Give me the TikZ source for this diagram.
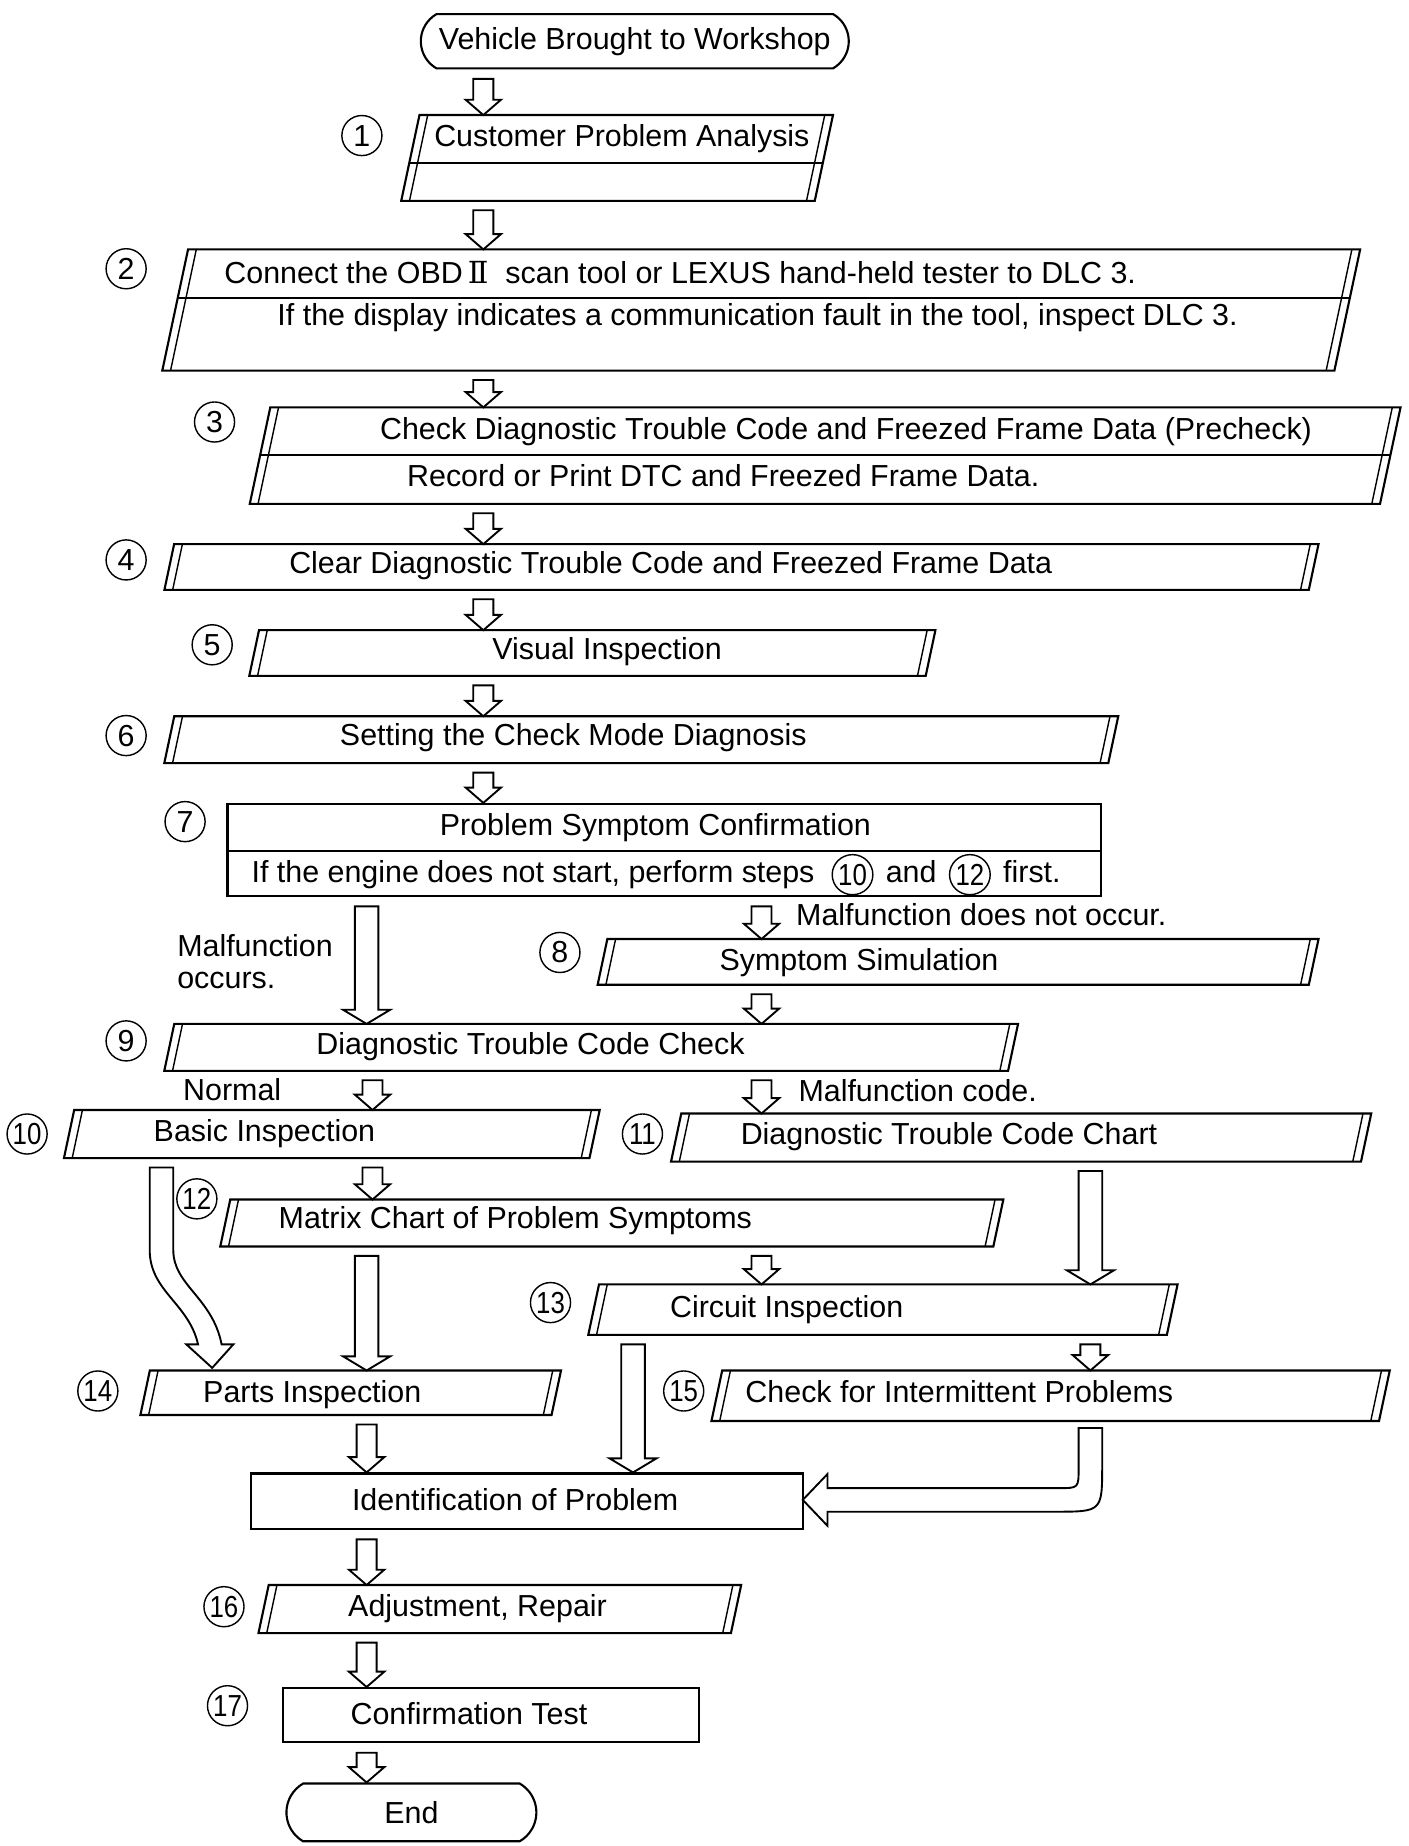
\documentclass[tikz,border=0pt]{standalone}
\usepackage{fontspec}
\setmainfont{Liberation Sans}
\newfontfamily\numeralfont{DejaVu Serif}
\usepackage{graphicx}
\usetikzlibrary{calc,positioning,shapes.misc,shapes.geometric}

\tikzset{
  edge/.style={line width=0.9pt},
  inner edge/.style={line width=0.6pt},
  harrow/.style={draw, line width=0.8pt, fill=white, line join=miter},
  pbox/.style={rectangle, inner sep=0pt},
  rbox/.style={rectangle, draw, line width=0.9pt, inner sep=0pt},
  term/.style={rounded rectangle, rounded rectangle arc length=120, draw,
    line width=0.9pt, inner sep=0pt},
  txt/.style={inner sep=0pt, text height=9pt, text depth=2.5pt},
  num/.style={circle, draw, line width=0.6pt, inner sep=0pt, minimum size=17pt},
  inum/.style={ellipse, draw, line width=0.6pt, inner sep=0pt,
    minimum width=16pt, minimum height=17pt},
}

% parallelogram round a box node, slanted sides drawn twice
\newcommand\pgram[1]{%
  \draw[edge] let \p1=(#1.north west), \p2=(#1.south east),
    \n1={0.1063*(\y1-\y2)} in
    (\x1+\n1,\y1) -- (\x2+\n1,\y1) -- (\x2-\n1,\y2) -- (\x1-\n1,\y2) -- cycle;
  \draw[inner edge] let \p1=(#1.north west), \p2=(#1.south east),
    \n1={0.1063*(\y1-\y2)} in
    (\x1+\n1+3.5pt,\y1) -- (\x1-\n1+3.5pt,\y2)
    (\x2+\n1-3.5pt,\y1) -- (\x2-\n1-3.5pt,\y2);
}
% divider inside a parallelogram
\newcommand\pdiv[2]{%
  \draw[edge] let \p1=(#1.north west), \p2=(#1.south east), \p3=(0,#2),
    \n1={0.1063*(\y1-\y2)}, \n2={0.2126*(\y3-\y2)} in
    (\x1-\n1+\n2,\y3) -- (\x2-\n1+\n2,\y3);
}
% hollow arrow pointing down
\newcommand\hollowarrow[5]{%
  \draw[harrow] let \p1=#4, \p2=#5 in
    (\x1-#1,\y1-4pt) -- (\x1-#1,\y2+#3) -- (\x1-#2,\y2+#3) -- (\x1,\y2)
    -- (\x1+#2,\y2+#3) -- (\x1+#1,\y2+#3) -- (\x1+#1,\y1-4pt) -- cycle;}
\newcommand\smallarrow[2]{\hollowarrow{4.25pt}{7.5pt}{6.5pt}{#1}{#2}}
\newcommand\longarrow[2]{\hollowarrow{5pt}{10pt}{6pt}{#1}{#2}}
\newcommand\sqz[1]{\scalebox{0.85}[1]{#1}}

\begin{document}
\begin{tikzpicture}[x=0.5pt, y=-0.5pt, font=\fontsize{12.9}{15}\selectfont]
  \useasboundingbox (0,0) rectangle (1195,1566);

  % columns of the arrows
  \coordinate (colmain) at (410,0);
  \coordinate (colsplit) at (646,0);
  \coordinate (colleft) at (311,0);
  \coordinate (colnormal) at (316,0);
  \coordinate (colright) at (925,0);
  \coordinate (colcirc) at (537,0);
  \coordinate (colbend) at (137,0);

  % boxes
  \node[term, minimum width=181.5pt, minimum height=23pt] (start) at (538.5,35) {Vehicle Brought to Workshop};
  \node[pbox, minimum width=175pt, minimum height=36pt] (analysis) at (523.5,134) {};
  \node[pbox, minimum width=496.75pt, minimum height=51pt] (connect) at (645.75,263) {};
  \node[pbox, minimum width=479pt, minimum height=40.5pt] (precheck) at (700,386.5) {};
  \node[pbox, minimum width=485pt, minimum height=19pt] (clear) at (629,481) {};
  \node[pbox, minimum width=286.5pt, minimum height=19pt] (visual) at (502.5,554) {};
  \node[pbox, minimum width=400pt, minimum height=19.5pt] (setmode) at (544,627.5) {};
  \node[rbox, minimum width=370.5pt, minimum height=39pt] (confirm) at (563.5,721) {};
  \node[pbox, minimum width=301.25pt, minimum height=19pt] (simulate) at (812.75,816) {};
  \node[pbox, minimum width=357.5pt, minimum height=19.5pt] (dtccheck) at (501.5,888.5) {};
  \node[pbox, minimum width=222.5pt, minimum height=20pt] (basic) at (281.5,962) {};
  \node[pbox, minimum width=292.25pt, minimum height=20pt] (dtcchart) at (866.25,965) {};
  \node[pbox, minimum width=327.5pt, minimum height=19.5pt] (matrix) at (519,1037.5) {};
  \node[pbox, minimum width=245pt, minimum height=21pt] (circuit) at (749,1111) {};
  \node[pbox, minimum width=174pt, minimum height=18.5pt] (parts) at (297.5,1181.5) {};
  \node[pbox, minimum width=282.75pt, minimum height=21pt] (intermit) at (891.25,1184) {};
  \node[rbox, minimum width=234pt, minimum height=23.5pt] (ident) at (447,1273.5) {};
  \node[pbox, minimum width=200pt, minimum height=20pt] (repair) at (424,1365) {};
  \node[rbox, minimum width=176.5pt, minimum height=23pt] (test) at (416.5,1455) {};
  \node[term, minimum width=106pt, minimum height=24.5pt] (finish) at (349,1537.5) {End};

  \foreach \b in {analysis,connect,precheck,clear,visual,setmode,simulate,
    dtccheck,basic,dtcchart,matrix,circuit,parts,intermit,repair}
    {\pgram{\b}}
  \pdiv{analysis}{138}
  \pdiv{connect}{253}
  \pdiv{precheck}{386}
  \draw[edge] (confirm.west |- 0,722) -- (confirm.east |- 0,722);

  % texts
  \node[txt, anchor=west] (t-analysis) at (368,118) {Customer Problem Analysis};
  \node[txt, anchor=west] (t-connect1) at (190,234) {Connect the OBD\,{\numeralfont Ⅱ}~ scan tool or LEXUS hand-held tester to DLC 3.};
  \node[txt, anchor=west] (t-connect2) at (235,270) {If the display indicates a communication fault in the tool, inspect DLC 3.};
  \node[txt, anchor=west] (t-precheck1) at (322,366) {Check Diagnostic Trouble Code and Freezed Frame Data (Precheck)};
  \node[txt, anchor=west] (t-precheck2) at (345,406) {Record or Print DTC and Freezed Frame Data.};
  \node[txt, anchor=west] (t-clear) at (245,480) {Clear Diagnostic Trouble Code and Freezed Frame Data};
  \node[txt] (t-visual) at (515,553) {Visual Inspection};
  \node[txt, anchor=west] (t-setmode) at (288,626) {Setting the Check Mode Diagnosis};
  \node[txt] (t-confirm1) at (556,702) {Problem Symptom Confirmation};
  \node[txt, anchor=west] (t-confirm2) at (213,742) {If the engine does not start, perform steps};
  \node[inum, right=7pt of t-confirm2] (r10) {\sqz{10}};
  \node[txt, right=5pt of r10] (t-and) {and};
  \node[inum, right=5pt of t-and] (r12) {\sqz{12}};
  \node[txt, right=5pt of r12] (t-first) {first.};
  \node[txt, anchor=west] (t-simulate) at (610,817) {Symptom Simulation};
  \node[txt, anchor=west] (t-dtccheck) at (268,888) {Diagnostic Trouble Code Check};
  \node[txt, anchor=west] (t-basic) at (130,962) {Basic Inspection};
  \node[txt, anchor=west] (t-dtcchart) at (628,964) {Diagnostic Trouble Code Chart};
  \node[txt, anchor=west] (t-matrix) at (236,1036) {Matrix Chart of Problem Symptoms};
  \node[txt, anchor=west] (t-circuit) at (568,1111) {Circuit Inspection};
  \node[txt, anchor=west] (t-parts) at (172,1183) {Parts Inspection};
  \node[txt, anchor=west] (t-intermit) at (632,1183) {Check for Intermittent Problems};
  \node[txt] (t-ident) at (437,1275) {Identification of Problem};
  \node[txt, anchor=west] (t-repair) at (295,1365) {Adjustment, Repair};
  \node[txt, anchor=west] (t-test) at (297,1456) {Confirmation Test};

  % arrow labels
  \node[txt, anchor=west] (l-nooccur) at (675,779) {Malfunction does not occur.};
  \node[txt, anchor=west] (l-occurs1) at (150,805) {Malfunction};
  \node[txt, anchor=west] (l-occurs2) at (150,832) {occurs.};
  \node[txt, anchor=west] (l-normal) at (155,927) {Normal};
  \node[txt, anchor=west] (l-code) at (677,928) {Malfunction code.};

  % step numbers
  \node[num] (n1) at (307,115) {1};
  \node[num] (n2) at (107,228) {2};
  \node[num] (n3) at (182,358) {3};
  \node[num] (n4) at (107,475) {4};
  \node[num] (n5) at (180,547) {5};
  \node[num] (n6) at (107,624) {6};
  \node[num] (n7) at (157,697) {7};
  \node[num] (n8) at (475,808) {8};
  \node[num] (n9) at (107,883) {9};
  \node[num] (n10) at (23,962) {\sqz{10}};
  \node[num] (n11) at (545,962) {\sqz{11}};
  \node[num] (n12) at (167,1017) {\sqz{12}};
  \node[num] (n13) at (467,1105) {\sqz{13}};
  \node[num] (n14) at (83,1180) {\sqz{14}};
  \node[num] (n15) at (580,1180) {\sqz{15}};
  \node[num] (n16) at (190,1363) {\sqz{16}};
  \node[num] (n17) at (193,1447) {\sqz{17}};

  % arrows
  \smallarrow{(colmain |- start.south)}{(colmain |- analysis.north)}
  \smallarrow{(colmain |- analysis.south)}{(colmain |- connect.north)}
  \smallarrow{(colmain |- connect.south)}{(colmain |- precheck.north)}
  \smallarrow{(colmain |- precheck.south)}{(colmain |- clear.north)}
  \smallarrow{(colmain |- clear.south)}{(colmain |- visual.north)}
  \smallarrow{(colmain |- visual.south)}{(colmain |- setmode.north)}
  \smallarrow{(colmain |- setmode.south)}{(colmain |- confirm.north)}
  \smallarrow{(colsplit |- confirm.south)}{(colsplit |- simulate.north)}
  \longarrow{(colleft |- confirm.south)}{(colleft |- dtccheck.north)}
  \smallarrow{(colsplit |- simulate.south)}{(colsplit |- dtccheck.north)}
  \smallarrow{(colnormal |- dtccheck.south)}{(colnormal |- basic.north)}
  \smallarrow{(colsplit |- dtccheck.south)}{(colsplit |- dtcchart.north)}
  \smallarrow{(colnormal |- basic.south)}{(colnormal |- matrix.north)}
  \longarrow{(colleft |- matrix.south)}{(colleft |- parts.north)}
  \longarrow{(colright |- dtcchart.south)}{(colright |- circuit.north)}
  \smallarrow{(colsplit |- matrix.south)}{(colsplit |- circuit.north)}
  \smallarrow{(colright |- circuit.south)}{(colright |- intermit.north)}
  \longarrow{(colcirc |- circuit.south)}{(colcirc |- ident.north)}
  \smallarrow{(colleft |- parts.south)}{(colleft |- ident.north)}
  \smallarrow{(colleft |- ident.south)}{(colleft |- repair.north)}
  \smallarrow{(colleft |- repair.south)}{(colleft |- test.north)}
  \smallarrow{(colleft |- test.south)}{(colleft |- finish.north)}

  % bent arrow from basic inspection down to parts inspection
  \begin{scope}[shift={(colbend |- basic.south)}]
    \draw[harrow] (-10,8) -- (-10,78) .. controls (-10,113) and (23,123) .. (31,158)
      -- (21,158) -- (43,178) -- (61,158) -- (51,158)
      .. controls (43,118) and (10,108) .. (10,78) -- (10,8) -- cycle;
  \end{scope}
  % bent arrow from intermittent problems to identification
  \begin{scope}[shift={(colright |- intermit.south)}]
    \draw[harrow] (-10,6) -- (-10,40) .. controls (-10,57) .. (-27,57) -- (-223,57)
      -- (-223,45) -- (-244,67) -- (-223,89) -- (-223,77) -- (-30,77)
      .. controls (10,77) .. (10,37) -- (10,6) -- cycle;
  \end{scope}
\end{tikzpicture}
\end{document}
